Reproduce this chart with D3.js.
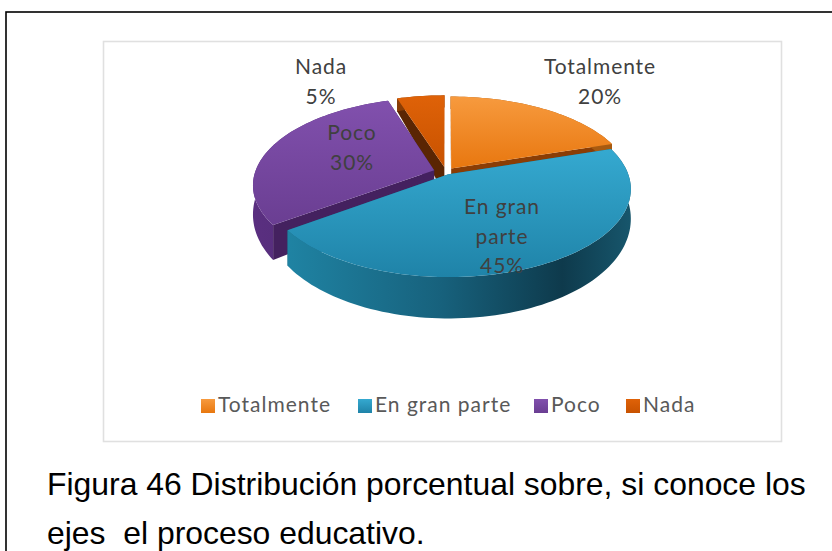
<!DOCTYPE html>
<html><head><meta charset="utf-8">
<script src="https://cdn.jsdelivr.net/npm/d3@7/dist/d3.min.js"></script>
<style>html,body{margin:0;padding:0;background:#fff}svg{display:block}text{white-space:pre}</style>
</head><body><svg id="c" width="832" height="551"></svg>
<script>
const categories = ["Totalmente","En gran parte","Poco","Nada"];
const values = [20,45,30,5];
const labelLines = [["Totalmente","20%"],["En gran","parte","45%"],["Poco","30%"],["Nada","5%"]];
const caption = ["Figura 46 Distribución porcentual sobre, si conoce los","ejes  el proceso educativo."];

const topFrom = ["#f79a3e","#35a9d0","#8150ad","#df6208"];
const topTo   = ["#e8770f","#1f83a8","#6a3e92","#c85200"];
const wallCol = ["#8a3d05","#17607a","#44215f","#5a2503"];
const sideL   = ["#a85a10","#1f7f9f","#5a2f80","#8a3d05"];
const sideR   = ["#a85a10","#124a5e","#4b2a70","#8a3d05"];
const explode = [0.05,0.03,0.07,0.06];
const labelPos = [[600,74],[502,214],[352,140],[321,74]];

const svg = d3.select("#c");
const defs = svg.append("defs");
const CX=446,CY=172,RX=179,RY=85,K=0.165;
const proj=(u,v)=>{const p=1+K*v;return [CX+RX*u/p,CY-RY*v/p];};
const depth=v=>27-14*v;

svg.append("rect").attr("x",6).attr("y",12).attr("width",840).attr("height",560).attr("fill","#fff").attr("stroke","#000").attr("stroke-width",1.6);
svg.append("rect").attr("x",103.5).attr("y",41.5).attr("width",678).attr("height",400).attr("fill","#fff").attr("stroke","#e0e0e0").attr("stroke-width",1.6);

const arcs=d3.pie().sort(null).value(d=>d)(values);
const line=d3.line();
function pts(a0,a1,e){
  const mid=(a0+a1)/2, ox=e*Math.sin(mid), oy=e*Math.cos(mid);
  const n=Math.ceil((a1-a0)/0.03);
  const arr=d3.range(n+1).map(i=>{const t=a0+(a1-a0)*i/n;return [ox+Math.sin(t),oy+Math.cos(t)];});
  return {apex:[ox,oy],arr};
}
const upper=p=>proj(p[0],p[1]);
const lower=p=>{const q=proj(p[0],p[1]);return [q[0],q[1]+depth(p[1])];};

arcs.forEach((d,i)=>{
  const g=defs.append("linearGradient").attr("id","t"+i).attr("x1",0).attr("y1",0).attr("x2",0).attr("y2",1);
  g.append("stop").attr("offset",0).attr("stop-color",topFrom[i]);
  g.append("stop").attr("offset",1).attr("stop-color",topTo[i]);
  const s=defs.append("linearGradient").attr("id","s"+i).attr("x1",0).attr("y1",0).attr("x2",1).attr("y2",0);
  if(i===1){
    s.append("stop").attr("offset",0).attr("stop-color","#1f83a3");
    s.append("stop").attr("offset",0.45).attr("stop-color","#17617c");
    s.append("stop").attr("offset",0.8).attr("stop-color","#0e3a4c");
    s.append("stop").attr("offset",1).attr("stop-color","#17566c");
  } else {
    s.append("stop").attr("offset",0).attr("stop-color",sideL[i]);
    s.append("stop").attr("offset",1).attr("stop-color",sideR[i]);
  }
});

[3,0,2,1].forEach(i=>{
  const d=arcs[i], P=pts(d.startAngle,d.endAngle,explode[i]);
  const g=svg.append("g");
  const wall=(p)=>g.append("path").attr("d",line([upper(P.apex),upper(p),lower(p),lower(P.apex)])+"Z").attr("fill",wallCol[i]);
  wall(P.arr[0]); wall(P.arr[P.arr.length-1]);
  g.append("path").attr("d",line(P.arr.map(upper).concat(P.arr.slice().reverse().map(lower)))+"Z").attr("fill",`url(#s${i})`);
  g.append("path").attr("d",line([upper(P.apex)].concat(P.arr.map(upper)))+"Z").attr("fill",`url(#t${i})`);
});

const lab=svg.append("g").attr("font-family","Lato, sans-serif").attr("font-size",21).attr("letter-spacing",0.9).attr("fill","#404040").attr("text-anchor","middle");
labelLines.forEach((ls,i)=>ls.forEach((t,j)=>lab.append("text").attr("x",labelPos[i][0]).attr("y",labelPos[i][1]+j*29.5).text(t)));

const legX=[201,358,534,626];
const lg=svg.append("g").attr("font-family","Lato, sans-serif").attr("font-size",21).attr("letter-spacing",1).attr("fill","#595959");
categories.forEach((c,i)=>{
  lg.append("rect").attr("x",legX[i]).attr("y",399).attr("width",14).attr("height",14).attr("fill",`url(#t${i})`);
  lg.append("text").attr("x",legX[i]+17).attr("y",412).text(c);
});

const cap=svg.append("g").attr("font-family","'Liberation Sans', Arial, sans-serif").attr("font-size",31.9).attr("fill","#000");
caption.forEach((t,i)=>cap.append("text").attr("x",47).attr("y",[495,544][i]).attr("xml:space","preserve").text(t));
</script></body></html>
